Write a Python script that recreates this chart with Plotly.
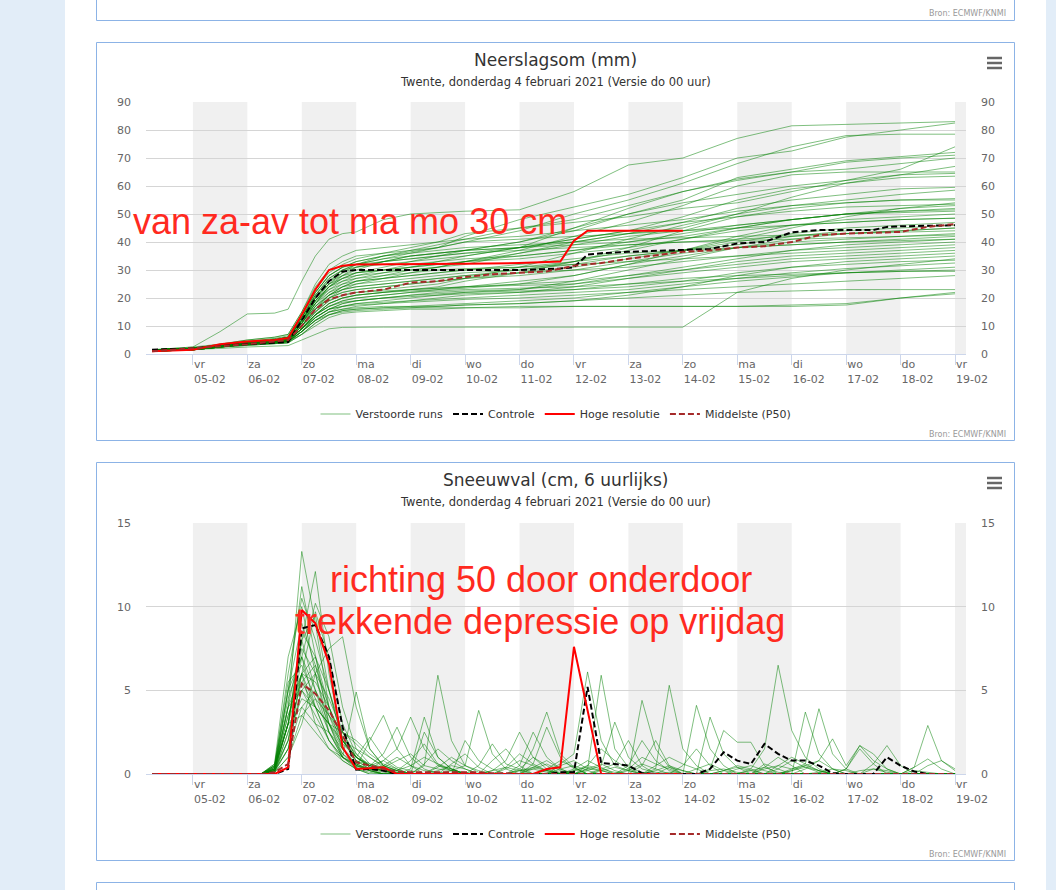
import plotly.graph_objects as go
import pandas as pd

W, H = 1056, 890

# Neerslagsom: times of the ensemble rows (6-hourly round the big event, daily later)
rain_times = ['2021-02-04 06:00', '2021-02-05 00:00', '2021-02-05 12:00', '2021-02-06 00:00',
              '2021-02-06 12:00', '2021-02-06 18:00', '2021-02-07 00:00', '2021-02-07 06:00',
              '2021-02-07 12:00', '2021-02-07 18:00', '2021-02-08 00:00', '2021-02-08 12:00',
              '2021-02-09 00:00', '2021-02-09 12:00', '2021-02-10 00:00', '2021-02-11 00:00',
              '2021-02-12 00:00', '2021-02-13 00:00', '2021-02-14 00:00', '2021-02-15 00:00',
              '2021-02-16 00:00', '2021-02-17 00:00', '2021-02-18 00:00', '2021-02-19 00:00']

# Verstoorde runs (mm)
rain_members = [
    [1.5, 2.5, 8, 14.3, 14.6, 16, 26, 35, 41, 43, 43.6, 48, 50, 50.5, 51, 51.5, 58, 67.5, 70, 77, 81.5, 82, 82.5, 83],
    [1.5, 2, 3.5, 5, 6, 7, 15, 24, 30, 33, 35, 36, 37, 38, 42, 48, 52.5, 57, 63, 70, 72.5, 77.5, 80, 82.5],
    [1, 2, 3, 4.5, 5.5, 6.5, 14, 22, 28, 31, 33, 35, 36.5, 38, 40, 44, 50, 55, 61, 68, 74, 78, 78.5, 78.5],
    [1.5, 2, 3, 4, 5, 6, 12, 20, 26, 30, 32, 35, 37, 39, 41, 45, 47, 49, 52, 54, 58, 62, 66, 74],
    [1, 1.5, 2.5, 3.5, 4.5, 5, 11, 18, 24, 27, 29, 31, 33, 35, 37, 40, 44, 50, 55, 63, 66, 69, 70.5, 72],
    [1.5, 2, 3, 4, 5, 5.5, 13, 21, 27, 30, 31, 32, 33, 34, 35, 38, 45, 52, 58, 62, 65, 68.5, 70, 71],
    [1, 2, 3, 4, 5, 6, 14, 23, 29, 32, 34, 36, 38, 40, 43, 45, 48, 53, 58, 62.5, 65, 66, 68, 70],
    [1.5, 2, 3, 4, 4.5, 5, 10, 16, 21, 24, 26, 28, 30, 31, 32, 36, 40, 43, 45, 50, 56, 61, 64, 67],
    [1, 1.5, 2.5, 3.5, 4, 4.5, 9, 15, 20, 23, 25, 27, 29, 31, 33, 37, 42, 47, 53, 60, 64, 65, 65, 65],
    [1.5, 2, 3, 4.5, 5.5, 6, 13, 20, 25, 28, 30, 33, 35, 36, 37, 40, 45, 50, 54, 57, 60, 62, 64, 64.5],
    [1, 2, 3, 4, 5, 6, 12, 19, 24, 27, 29, 30, 31, 33, 35, 38, 41, 44, 49, 55, 59, 61, 63, 63.5],
    [1.5, 2, 3, 4, 4.5, 5, 11, 18, 24, 28, 31, 33, 35, 36, 37, 38, 40, 43, 47, 52, 55, 57, 59, 59.5],
    [1, 2, 3, 4, 5, 5.5, 10, 15, 19, 21, 22, 23, 24, 25, 27, 31, 36, 41, 46, 50, 53, 55, 57, 58.5],
    [1.5, 2.5, 3.5, 5, 6, 7, 15, 25, 32, 35, 37, 38, 39, 40, 41, 42, 44, 46, 48, 51, 53, 54, 55, 55.5],
    [1, 1.5, 2.5, 3.5, 4, 4.5, 9, 14, 18, 20, 21, 22, 23, 24, 26, 29, 33, 38, 44, 49, 52, 54, 55, 55],
    [1.5, 2, 3, 4, 5, 5.5, 12, 20, 26, 29, 31, 33, 34, 35, 36, 38, 41, 44, 47, 49, 51, 52.5, 53, 53.5],
    [1, 2, 3, 4, 4.5, 5, 10, 17, 22, 25, 27, 29, 31, 32, 33, 35, 37, 40, 43, 46, 48, 50, 51, 52],
    [1.5, 2, 3, 4, 5, 6, 13, 21, 26, 28, 29, 30, 31, 32, 33, 34, 36, 38, 41, 45, 48, 50, 50.5, 51],
    [1, 1.5, 2.5, 3.5, 4.5, 5, 9, 14, 17, 19, 20, 21, 22, 23, 24, 26, 28, 32, 37, 42, 46, 48, 49, 50],
    [1.5, 2, 3, 4, 5, 5.5, 11, 19, 25, 29, 32, 34, 36, 38, 40, 41, 42, 43, 44, 45, 46, 47, 48, 48.5],
    [1, 2, 3, 4, 4.5, 5, 10, 16, 20, 22, 23, 24, 25, 26, 27, 29, 31, 34, 37, 40, 43, 45, 46, 47],
    [1.5, 2, 3, 4, 5, 5.5, 12, 18, 22, 24, 25, 26, 27, 28, 29, 30, 32, 35, 37, 39, 42, 44, 45, 46],
    [1, 1.5, 2.5, 3.5, 4, 4.5, 8, 13, 16, 18, 19, 20, 21, 22, 22.5, 23, 26, 30, 34, 38, 41, 43, 44, 45],
    [1.5, 2, 3, 4, 5, 6, 14, 22, 28, 31, 33, 35, 36, 37, 38, 39, 40, 41, 41.5, 42, 42.5, 43, 43.5, 44],
    [1, 2, 3, 4, 4.5, 5, 9, 14, 18, 20, 21, 22, 22.5, 23, 23.5, 25, 28, 32, 35, 38, 40, 41, 42, 43],
    [1.5, 2, 3, 4, 4.5, 5, 10, 16, 21, 24, 26, 27, 28, 29, 30, 32, 34, 36, 37, 38, 39, 40, 41, 42],
    [1, 1.5, 2.5, 3.5, 4, 4.5, 8, 12, 15, 17, 18, 19, 20, 21, 22, 23, 25, 28, 31, 34, 37, 39, 40, 41],
    [1.5, 2, 3, 4, 5, 5.5, 11, 17, 21, 23, 24, 25, 26, 27, 28, 29, 30, 31, 33, 35, 37, 38, 39, 40],
    [1, 2, 3, 4, 5, 6, 12, 19, 24, 26, 27, 28, 29, 30, 30.5, 31, 32, 33, 34, 35, 36, 37, 38, 39],
    [1.5, 2, 3, 3.5, 4, 4.5, 8, 12, 15, 16, 17, 18, 19, 20, 21, 22, 24, 27, 30, 33, 35, 36, 37, 38],
    [1, 1.5, 2.5, 3.5, 4, 5, 9, 14, 18, 20, 21, 22, 23, 23.5, 24, 25, 26, 28, 30, 32, 34, 35, 36, 37],
    [1.5, 2, 3, 4, 5, 5.5, 10, 15, 19, 21, 22, 22.5, 23, 23.5, 24, 24.5, 25, 27, 29, 31, 33, 34, 35, 36],
    [1, 1.5, 2.5, 3, 3.5, 4, 7, 11, 14, 15.5, 16, 16.5, 17, 17, 17.5, 18, 19, 21, 24, 28, 31, 33, 34, 35],
    [1, 1.5, 2, 2.5, 3, 3, 5, 7, 9, 9.5, 9.6, 9.6, 9.6, 9.6, 9.6, 9.6, 9.6, 9.6, 9.6, 22, 27, 30, 32, 34],
    [1.5, 2, 3, 4, 4.5, 5, 9, 13, 16, 17, 18, 18.5, 19, 19.5, 20, 21, 22, 23, 25, 27, 29, 30.5, 31.5, 32.5],
    [1, 1.5, 2.5, 3.5, 4, 4.5, 8, 12, 15, 16, 16.5, 17, 17, 17.5, 18, 19, 20, 22, 24, 26, 27.5, 29, 30, 31],
    [1.5, 2, 3, 4, 4.5, 5, 9, 14, 17, 19, 20, 21, 22, 22.5, 23, 23.5, 24, 25, 26, 27, 28, 29, 29.5, 30],
    [1, 1.5, 2.5, 3, 3.5, 4, 7, 11, 14, 15, 15.5, 16, 16.5, 17, 17.5, 18, 19, 20, 21, 22, 22.5, 23, 23, 23],
    [1.5, 2, 3, 3.5, 4, 4.5, 7, 10, 13, 14.5, 15, 15.5, 16, 16, 16.5, 16.5, 17, 17, 17, 17, 17, 17.5, 20, 22],
    [1, 1.5, 2.5, 3.5, 4, 4.5, 8, 13, 16, 18, 19, 20, 20.5, 21, 21.5, 22, 23, 25, 27, 28, 28.5, 29, 29.5, 29.5],
    [1.5, 2, 3, 4, 5, 5.5, 12, 20, 25, 27, 28, 29, 30, 31, 33, 36, 39, 42, 44, 46, 48, 50, 51, 51.5],
    [1, 1.5, 2.5, 3.5, 4, 4.5, 10, 16, 20, 22, 23, 24, 25, 26, 27, 28, 30, 33, 36, 38, 39, 40, 40.5, 41],
    [1.5, 2, 3, 4, 4.5, 5, 11, 18, 23, 26, 28, 30, 32, 33, 34, 35, 37, 39, 40, 41, 42, 43, 44, 45],
    [1, 2, 3, 4, 5, 5.5, 12, 19, 23, 25, 26, 27, 28, 29, 30, 31, 33, 35, 37, 41, 45, 49, 52, 54],
    [1.5, 2, 3, 4, 5, 6, 13, 21, 27, 30, 32, 34, 35, 36, 37, 38, 39, 40, 42, 45, 48, 50, 52, 53],
    [1, 1.5, 2.5, 3.5, 4, 4.5, 9, 14, 17, 18.5, 19, 20, 21, 21.5, 22, 22.5, 23, 24, 26, 29, 31, 32, 33, 33.5],
    [1.5, 2, 3, 4, 4.5, 5, 9, 13, 16, 17, 17.5, 18, 18.5, 19, 19.5, 20, 21, 22, 23, 24, 25, 26, 27, 28],
    [1, 2, 3, 4, 5, 5.5, 11, 17, 21, 23, 24, 25, 26, 27, 28, 30, 33, 37, 41, 44, 46, 47, 48, 48.5],
    [1.5, 2, 3, 4, 5, 5.5, 13, 22, 28, 31, 32, 33, 34, 35, 36, 37, 38, 39, 40, 40.5, 41, 41.5, 42, 42.5],
    [1, 1.5, 2.5, 3, 3.5, 4, 8, 12, 14, 15.5, 16, 16.5, 16.5, 16.5, 16.5, 17, 17, 17, 17, 17, 17.5, 18, 20, 21.5],
]

# Controle (mm)
rain_ctrl_times = ['2021-02-04 06:00', '2021-02-05 00:00', '2021-02-05 12:00', '2021-02-06 00:00',
                   '2021-02-06 12:00', '2021-02-06 18:00', '2021-02-07 00:00', '2021-02-07 06:00',
                   '2021-02-07 12:00', '2021-02-07 18:00', '2021-02-08 00:00', '2021-02-09 00:00',
                   '2021-02-10 00:00', '2021-02-11 00:00', '2021-02-11 18:00', '2021-02-12 00:00',
                   '2021-02-12 06:00', '2021-02-12 12:00', '2021-02-13 00:00', '2021-02-14 00:00',
                   '2021-02-14 12:00', '2021-02-15 00:00', '2021-02-15 12:00', '2021-02-16 00:00',
                   '2021-02-16 12:00', '2021-02-17 12:00', '2021-02-17 18:00', '2021-02-18 00:00',
                   '2021-02-19 00:00']
rain_ctrl = [1.5, 2, 3, 3.5, 4, 4.3, 12, 20, 26, 29.5, 30, 30, 30, 30, 30.5, 31,
             35.5, 36, 36.5, 37, 37.5, 39.5, 40, 43.5, 44.3, 44.3, 45.4, 45.6, 46]

# Hoge resolutie (mm), runs until 14-02
rain_hires_times = ['2021-02-04 06:00', '2021-02-05 00:00', '2021-02-05 12:00', '2021-02-06 00:00',
                    '2021-02-06 12:00', '2021-02-06 18:00', '2021-02-07 00:00', '2021-02-07 06:00',
                    '2021-02-07 12:00', '2021-02-07 18:00', '2021-02-08 00:00', '2021-02-09 00:00',
                    '2021-02-10 00:00', '2021-02-11 00:00', '2021-02-11 18:00', '2021-02-12 00:00',
                    '2021-02-12 06:00', '2021-02-14 00:00']
rain_hires = [1, 1.5, 3.5, 4.5, 5, 5.7, 14, 23, 30, 31.5, 32, 32, 32.2, 32.5, 33, 40.5, 44, 44]

# Middelste (P50) (mm)
rain_p50_times = ['2021-02-04 06:00', '2021-02-05 00:00', '2021-02-06 00:00', '2021-02-06 18:00',
                  '2021-02-07 00:00', '2021-02-07 06:00', '2021-02-07 12:00', '2021-02-07 18:00',
                  '2021-02-08 00:00', '2021-02-08 12:00', '2021-02-09 00:00', '2021-02-09 12:00',
                  '2021-02-10 00:00', '2021-02-10 12:00', '2021-02-11 00:00', '2021-02-11 12:00',
                  '2021-02-12 00:00', '2021-02-12 12:00', '2021-02-13 00:00', '2021-02-14 00:00',
                  '2021-02-14 12:00', '2021-02-15 00:00', '2021-02-15 12:00', '2021-02-16 00:00',
                  '2021-02-16 12:00', '2021-02-17 00:00', '2021-02-18 00:00', '2021-02-18 12:00',
                  '2021-02-19 00:00']
rain_p50 = [1, 2, 3.5, 5, 10, 16, 19.5, 21, 22, 23, 25.5, 26, 27.5, 28.5, 29, 29.5,
            31.5, 32.5, 34, 36.5, 37, 38, 38.5, 40, 42.5, 43, 43.6, 45.4, 46.4]

# Sneeuwval: 04-02 06h, then 6-hourly 06-02 00h .. 18-02 18h, then 19-02 00h
snow_times = (['2021-02-04 06:00']
              + [f'2021-02-{d:02d} {h:02d}:00' for d in range(6, 19) for h in (0, 6, 12, 18)]
              + ['2021-02-19 00:00'])

# Verstoorde runs (cm per 6 h)
snow_members = [
    [0, 0, 0, 0.3, 4, 13.3, 9, 4, 1.5, 0.5, 0.3, 0.2, 0.1, 0, 0, 0.2, 0.5, 0.3, 0, 0, 0, 0.2, 0.4, 0.2, 0, 0, 0.3, 0.6, 0.2, 0, 0, 0, 0.1, 0, 0, 0, 0.2, 0.5, 0.3, 0, 0, 0, 0, 0.1, 0.3, 0.2, 0, 0, 0, 0, 0.2, 0.1, 0, 0],
    [0, 0, 0, 0.5, 3, 8, 12.1, 6, 2, 1, 0.6, 0.4, 0.8, 1.2, 0.5, 0.3, 0.2, 0.1, 0, 0, 0.3, 0.8, 0.5, 0.2, 0.1, 0, 0.5, 1.5, 0.8, 0.3, 0, 0, 0.4, 0.2, 0, 0, 0, 0.3, 0.5, 0.2, 0, 0, 0, 0, 0, 0, 0, 0.3, 0.2, 0, 0, 0, 0, 0],
    [0, 0, 0, 0.2, 5, 11.2, 7, 3, 1.2, 0.4, 2, 3.5, 1.5, 0.5, 0.2, 0.1, 0, 0, 0, 0, 0, 0, 0.3, 0.6, 0.2, 0, 0, 0, 0, 0.3, 1, 0.6, 0.3, 0, 0, 0.2, 0.3, 0.1, 0, 0, 0.5, 1, 0.6, 0.2, 0, 0, 0, 0, 0, 0, 0, 0, 0, 0],
    [0, 0, 0, 0.4, 6, 10.5, 8, 5, 2.5, 1, 0.5, 0.8, 1.5, 3.4, 1.5, 0.5, 0.2, 0, 0, 0, 0, 0.2, 0.3, 0.1, 0, 0, 0, 0.2, 0.4, 0.2, 0, 0, 0, 0, 0.3, 0.6, 0.2, 0, 0, 0, 0, 0.2, 0.4, 0.1, 0, 0, 0, 0, 0, 0, 0.4, 0.9, 0.3, 0],
    [0, 0, 0, 0.1, 2, 7, 10.2, 8.2, 4, 1.5, 0.6, 0.3, 0.1, 0, 0, 0.4, 1, 0.5, 0.2, 0, 0, 0, 0, 0.2, 0.6, 1.2, 6.1, 2, 0.5, 0.2, 0, 0, 0, 0, 0, 0, 0, 0, 0.2, 0.4, 0.1, 0, 0, 0, 0, 0, 0.2, 0.3, 0.1, 0, 0, 0, 0, 0],
    [0, 0, 0, 0.6, 7, 10, 6, 2.5, 1, 0.3, 0.1, 0, 0, 0, 0.5, 5.9, 2, 0.5, 0.1, 0, 0, 0, 0, 0, 0, 0.2, 0.5, 0.3, 0.1, 0, 0, 0.2, 0.5, 0.2, 0, 0, 0, 0, 0, 0, 0.3, 0.8, 0.4, 0.2, 0, 0, 0, 0, 0, 0, 0, 0, 0, 0],
    [0, 0, 0, 0.2, 1.5, 6, 9.7, 7, 3, 1.2, 0.5, 0.2, 0, 0, 0, 0, 0.2, 0.5, 3.8, 1.2, 0.3, 0, 0, 0, 0, 0, 0, 0, 0, 0.2, 0.6, 0.3, 0, 0, 0, 0, 0.2, 0.4, 0.2, 0, 0, 0, 0, 0, 0, 0.3, 1.7, 0.8, 0.3, 0, 0, 0, 0, 0],
    [0, 0, 0, 0.3, 3, 8, 9.5, 5, 2, 0.8, 0.3, 0.1, 0, 0, 0, 0, 0, 0, 0, 0.2, 0.8, 2.5, 1, 0.3, 0, 0, 0.3, 5.9, 1.5, 0.4, 0.1, 0, 0, 0, 0, 0, 0, 0, 0, 0, 0, 0.2, 0.5, 0.2, 0, 0, 0, 0, 0, 0, 0, 0, 0, 0],
    [0, 0, 0, 0.5, 5, 9, 6.5, 3.5, 1.5, 0.6, 0.2, 0, 0, 0, 0, 0, 0, 0, 0, 0, 0, 0, 0, 0, 0, 0, 0.2, 0.5, 3.1, 1, 0.3, 0.1, 0, 0, 0, 3.4, 1.2, 0.4, 0, 0, 0, 0, 0, 0, 0, 0, 0, 0, 0, 0, 0, 0, 0, 0],
    [0, 0, 0, 0.1, 1, 3, 6, 7.5, 8.2, 4, 1.5, 0.5, 0.2, 0, 0, 0, 0, 0, 0, 0.2, 0.4, 0.2, 0, 0, 0, 0, 0, 0, 0, 0, 0, 0.3, 5.3, 1.5, 0.5, 0, 0, 0, 0, 0, 0, 0, 0.3, 0.8, 0.3, 0, 0, 0, 0, 0, 0, 0, 0, 0],
    [0, 0, 0, 0.3, 4, 8, 5, 2.5, 1, 4.9, 1.5, 0.5, 0.2, 0, 0, 0, 0, 0, 0, 0, 0, 0, 0.4, 0.8, 0.3, 0, 0, 0, 0, 0, 0, 0, 0, 0, 4.1, 1.5, 0.5, 0, 0, 0, 0, 0, 0, 0, 0, 0, 0, 0, 0, 0, 0, 0, 0, 0],
    [0, 0, 0, 0.2, 3, 7.5, 6, 3, 1, 0.5, 0.2, 0, 0, 0.3, 3.4, 1, 0.3, 0, 0, 0, 0, 0, 0, 0, 0, 0.3, 0.8, 0.4, 0, 0, 4.4, 1.5, 0.4, 0, 0, 0, 0, 0, 0, 0, 0, 0, 0, 0, 0, 0, 0, 0, 0, 0, 0, 0, 0, 0],
    [0, 0, 0, 0.4, 5, 7, 4, 2, 0.8, 0.3, 0, 0, 0, 0, 0, 0, 0, 0, 0, 0, 0, 0.5, 2.5, 1, 0.3, 0, 0, 0, 0, 0, 0, 0, 0, 0, 0, 0, 0, 0, 0.3, 1.5, 6.5, 2.6, 1, 0.3, 0, 0, 0, 0, 0, 0, 0, 0, 0, 0],
    [0, 0, 0, 0.6, 5.5, 6.5, 4.5, 2.5, 1.2, 0.6, 0.3, 0.2, 0.1, 0, 0, 0, 0, 0, 0, 0, 0, 0, 0, 0, 0.3, 0.5, 0.2, 0, 0, 0, 0, 0, 0, 0, 0, 0.3, 2.6, 1.9, 1.9, 0.5, 0, 0, 3.7, 1.2, 0.3, 0, 0, 0, 0, 0, 0, 0, 0, 0],
    [0, 0, 0, 0.2, 2, 6, 5.5, 4, 2, 1, 0.5, 0.3, 0, 0, 0, 0, 0, 0, 0, 0, 0, 0, 0, 0, 0, 0, 0, 0.3, 0.6, 2, 0.5, 0, 0, 0, 0, 0, 0, 0, 0, 0.3, 0.5, 0.3, 0.6, 3.9, 1.2, 0.3, 0, 0, 0, 0, 0, 0, 0, 0],
    [0, 0, 0, 0.3, 3.5, 5.5, 4, 2, 1, 0.4, 0.2, 0, 0, 0, 0, 0, 0, 0, 0, 0, 0, 0, 0, 0, 0, 0, 0, 0, 0, 0, 0, 0, 0, 0, 0, 0, 0, 0, 0, 0, 0, 0.3, 0.5, 0.8, 2.1, 0.5, 1.7, 1.2, 0.3, 0, 0.4, 2.9, 0.8, 0.2],
    [0, 0, 0, 0.1, 1.5, 5, 6, 4.5, 2.5, 1, 0.4, 0.2, 0, 0, 2.5, 1, 0.3, 0, 0, 0, 0, 0, 0, 0, 0, 0, 0, 0, 0, 0, 0, 0, 0, 0, 0, 0, 0, 0, 0, 0, 0, 0, 0, 0, 0, 0, 0, 0, 0, 0, 0, 0, 0, 0],
    [0, 0, 0, 0.5, 4, 5, 3.5, 2, 1, 0.5, 0.3, 0.5, 1, 0.5, 0, 0, 0, 0, 0, 0, 0, 0, 0, 0, 0, 0, 0, 0, 0, 0, 0.5, 2, 0.5, 0, 0, 0, 0, 0, 0, 0, 0, 0, 0, 0, 0, 0.3, 1.5, 0.6, 0, 0, 0, 0, 0, 0],
    [0, 0, 0, 0.2, 2.5, 4.5, 4, 3, 1.5, 0.8, 0.3, 0, 0, 0, 0, 0, 0, 0, 0, 0, 0, 0.3, 1, 0.5, 0, 0, 0, 0, 0, 0, 0, 0, 0, 0, 0, 0, 0, 0, 0, 0, 0, 0, 0, 0, 0, 0, 0, 0, 0, 0, 0, 0, 0, 0],
    [0, 0, 0, 0.3, 3, 4, 3, 2.5, 1.5, 0.5, 0.2, 0, 0, 0, 0, 0, 0, 0, 0, 0, 0, 0, 0, 0, 0, 0, 0, 0, 0, 0, 0, 0, 0, 0, 0, 0, 0, 0, 0, 0, 0, 0, 0, 0, 0, 0, 0, 0, 0, 0, 0, 0, 0, 0],
    [0, 0, 0, 0.1, 1, 3.5, 4.5, 3.5, 2, 1, 0.5, 0.2, 0, 0, 0, 0, 0, 0, 0, 0, 0, 0, 0, 0, 0, 0, 0, 0, 0, 0, 0, 0, 0, 0, 0, 0, 0, 0, 0, 0, 0, 0, 0, 0, 0, 0, 0, 0, 0, 0, 0, 0, 0, 0],
    [0, 0, 0, 0.4, 3, 3.5, 2.5, 1.5, 0.8, 0.3, 0, 0, 0, 0, 0, 0, 0, 0, 0, 0, 0, 0, 0, 0, 0, 0, 0, 0, 0, 0, 0, 0, 0, 0, 0, 0, 0, 0, 0, 0, 0, 0, 0, 0, 0, 0, 0, 0, 0, 0, 0, 0, 0, 0],
    [0, 0, 0, 0.3, 2, 5, 4, 3, 2, 1.5, 1, 0.5, 0.2, 0.5, 1, 0.6, 0.3, 0, 0.5, 1.8, 0.6, 0.3, 0, 0, 0.5, 0.8, 0.3, 0.2, 0, 0, 0, 0.5, 1, 0.6, 0.3, 0, 0, 0, 0, 0.6, 0.3, 0, 0, 0, 0, 0, 0, 0, 0, 0, 0, 0, 0, 0],
    [0, 0, 0, 0.2, 3, 6, 4, 3, 2.5, 2, 1.2, 0.6, 0.3, 0, 0.6, 1.5, 0.8, 0.3, 0, 0, 0, 0, 0.6, 2.8, 1, 0.3, 0, 0, 0, 0, 0, 0, 0, 0, 0, 0, 0, 0, 0, 0, 0, 0, 0, 0, 0, 0, 0, 0, 0, 0, 0, 0, 0, 0],
    [0, 0, 0, 0.5, 4.5, 7, 5, 3.5, 2.5, 1.8, 1, 0.4, 0.2, 0.8, 1.8, 0.6, 0.2, 0, 0, 0, 0.4, 1.2, 0.6, 0.2, 0, 0.2, 0.4, 0.2, 0, 0, 0, 0, 0, 0, 0, 0, 0, 0, 0, 0.4, 1, 0.5, 0, 0, 0, 0, 0, 0, 0, 0, 0, 0, 0, 0],
    [0, 0, 0, 0.2, 1.5, 4, 5, 3, 1.8, 1, 2.2, 1, 0.4, 0.2, 0, 0, 0.6, 1.2, 0.4, 0, 0, 0, 0, 0.3, 0.8, 0.4, 0, 0, 0, 0.5, 2, 0.8, 0.2, 0, 0, 0, 0, 0, 0, 0, 0, 0, 0, 0, 0, 0, 0, 0, 0, 0, 0, 0, 0, 0],
    [0, 0, 0, 0.4, 3.5, 6, 7, 5, 2, 0.8, 0.5, 1.2, 2.8, 1, 0.3, 0, 0, 0, 0, 0.8, 1.5, 0.5, 0, 0, 0, 0, 0, 0, 0, 0, 0, 0, 0, 0.5, 1.5, 0.5, 0, 0, 0, 0, 0, 0, 0, 0, 0, 0, 0, 0, 0, 0, 0, 0, 0, 0],
    [0, 0, 0, 0.1, 2.5, 5.5, 6.5, 4, 2.2, 1.2, 0.4, 0.2, 0, 0, 0, 0.5, 0.3, 0, 0, 0, 0, 0, 1.5, 3.7, 1.2, 0.4, 0, 0, 0, 0, 0, 0, 0, 0, 0, 0, 0, 0, 0, 0, 0, 0, 0, 0, 0, 0, 0, 0, 0, 0, 0, 0, 0, 0],
    [0, 0, 0, 0.3, 4, 6, 3, 1.5, 1, 0.6, 0.3, 0.8, 0.3, 0, 0, 0, 0, 2, 0.8, 0.3, 0, 0, 0, 0, 0, 0, 0, 0, 0, 0, 0, 0, 0, 0, 0, 0, 0, 0, 0, 0, 0, 0, 0, 0, 0, 0, 0, 0.6, 1.7, 0.5, 0, 0, 0, 0],
    [0, 0, 0, 0.2, 3, 8.5, 7, 4, 2, 1, 0.4, 0.2, 0, 0, 0, 0, 0, 0, 0, 0, 0, 0, 0, 0, 0, 0, 0, 0, 0, 0, 0, 0, 0, 0, 0, 0, 0, 0, 0, 0, 0, 0, 0, 0, 0, 0, 0, 0, 0, 0, 0, 0.5, 0.8, 0.3],
]

# Controle, Hoge resolutie (until 14-02 00h) and P50, same time steps
snow_ctrl = [0, 0, 0, 0, 0.3, 8.7, 8.9, 7, 2.8, 0.25, 0.3, 0.2, 0, 0, 0, 0, 0, 0, 0, 0, 0,
             0, 0, 0, 0.1, 0.1, 5.2, 0.65, 0.6, 0.5, 0.05, 0, 0, 0, 0, 0.3, 1.3, 0.8, 0.6, 1.8, 1.2,
             0.8, 0.8, 0.5, 0.05, 0, 0, 0, 1.0, 0.5, 0.15, 0, 0, 0]
snow_hires = [0, 0, 0, 0, 0.4, 9.8, 9, 6.6, 1.6, 0.3, 0.35, 0.4, 0, 0, 0, 0, 0, 0, 0, 0, 0,
              0, 0, 0.3, 0.4, 7.6, 3.8, 0, 0, 0, 0, 0, 0, 0]
snow_p50 = [0, 0, 0, 0.1, 0.6, 5.4, 4.8, 3.8, 2.3, 0.7, 0.5, 0.3, 0.15, 0.1, 0.1, 0.1, 0.1,
            0.1, 0.1, 0.05, 0.05, 0, 0, 0, 0, 0, 0, 0, 0, 0, 0, 0, 0, 0, 0, 0, 0, 0, 0, 0, 0,
            0, 0, 0, 0, 0, 0, 0, 0, 0, 0, 0, 0, 0]

# x axis ticks and the alternating grey day bands
tick_vals = ['2021-02-%02d' % d for d in range(5, 20)]
day_names = ['vr', 'za', 'zo', 'ma', 'di', 'wo', 'do', 'vr', 'za', 'zo', 'ma', 'di', 'wo', 'do', 'vr']
day_dates = ['05-02', '06-02', '07-02', '08-02', '09-02', '10-02', '11-02', '12-02',
             '13-02', '14-02', '15-02', '16-02', '17-02', '18-02', '19-02']
band_days = ['2021-02-05', '2021-02-07', '2021-02-09', '2021-02-11', '2021-02-13',
             '2021-02-15', '2021-02-17', '2021-02-19']
x_range = ['2021-02-04 03:20', '2021-02-19 04:50']

GREEN = 'rgba(0,128,0,0.5)'
FONT = 'DejaVu Sans'
FRAME = '#8cb3e6'


def px(x):
    return x / W


def py(y):
    return 1 - y / H


fig = go.Figure()

# Neerslagsom traces
for i, row in enumerate(rain_members):
    fig.add_trace(go.Scatter(x=rain_times, y=row, mode='lines', name='Verstoorde runs',
                             line=dict(color=GREEN, width=1), legendgroup='runs',
                             showlegend=(i == 0), hoverinfo='skip', xaxis='x', yaxis='y'))
fig.add_trace(go.Scatter(x=rain_ctrl_times, y=rain_ctrl, mode='lines', name='Controle',
                         line=dict(color='black', width=2, dash='6px,3px'), xaxis='x', yaxis='y'))
fig.add_trace(go.Scatter(x=rain_hires_times, y=rain_hires, mode='lines', name='Hoge resolutie',
                         line=dict(color='#ff0000', width=2), xaxis='x', yaxis='y'))
fig.add_trace(go.Scatter(x=rain_p50_times, y=rain_p50, mode='lines', name='Middelste (P50)',
                         line=dict(color='#a52a2a', width=2, dash='6px,3px'), xaxis='x', yaxis='y3'))

# Sneeuwval traces
for i, row in enumerate(snow_members):
    fig.add_trace(go.Scatter(x=snow_times, y=row, mode='lines', name='Verstoorde runs',
                             line=dict(color=GREEN, width=1), legendgroup='runs2',
                             showlegend=(i == 0), hoverinfo='skip', xaxis='x2', yaxis='y2',
                             legend='legend2'))
fig.add_trace(go.Scatter(x=snow_times, y=snow_ctrl, mode='lines', name='Controle',
                         line=dict(color='black', width=2, dash='6px,3px'), xaxis='x2', yaxis='y2',
                         legend='legend2'))
fig.add_trace(go.Scatter(x=snow_times[:len(snow_hires)], y=snow_hires, mode='lines',
                         name='Hoge resolutie', line=dict(color='#ff0000', width=2),
                         xaxis='x2', yaxis='y2', legend='legend2'))
fig.add_trace(go.Scatter(x=snow_times, y=snow_p50, mode='lines', name='Middelste (P50)',
                         line=dict(color='#a52a2a', width=2, dash='6px,3px'), xaxis='x2', yaxis='y4',
                         legend='legend2'))

tick_text = [n + '<br>' + d for n, d in zip(day_names, day_dates)]
xdom = [px(146), px(966)]
axis_font = dict(family=FONT, size=11, color='#666666')

xcommon = dict(domain=xdom, type='date', range=x_range, tickvals=tick_vals, ticktext=tick_text,
               ticks='outside', ticklen=10, tickcolor='#ccd6eb', showline=True, linecolor='#ccd6eb',
               showgrid=False, zeroline=False, tickfont=axis_font, ticklabelposition='outside right')
ycommon = dict(gridcolor='#d5d5d5', zeroline=False, tickfont=axis_font, ticks='',
               ticklabelstandoff=14, fixedrange=True)
yright = {k: v for k, v in ycommon.items() if k != 'gridcolor'}

fig.update_layout(
    xaxis=dict(anchor='y', **xcommon),
    yaxis=dict(anchor='x', domain=[py(354), py(102)], range=[0, 90], dtick=10, **ycommon),
    yaxis3=dict(anchor='x', overlaying='y', side='right', range=[0, 90], dtick=10,
                showgrid=False, **yright),
    xaxis2=dict(anchor='y2', **xcommon),
    yaxis2=dict(anchor='x2', domain=[py(774), py(523)], range=[0, 15], dtick=5, **ycommon),
    yaxis4=dict(anchor='x2', overlaying='y2', side='right', range=[0, 15], dtick=5,
                showgrid=False, **yright),
)

legend_style = dict(orientation='h', xanchor='center', yanchor='middle', x=px(556),
                    bgcolor='rgba(0,0,0,0)', font=dict(family=FONT, size=11, color='#333333'),
                    itemclick=False)
fig.update_layout(legend=dict(y=py(414), **legend_style),
                  legend2=dict(y=py(834), **legend_style))

shapes = []
# page background strips
shapes.append(dict(type='rect', xref='paper', yref='paper', x0=0, x1=px(65), y0=0, y1=1,
                   fillcolor='#e2edf8', line_width=0, layer='below'))
shapes.append(dict(type='rect', xref='paper', yref='paper', x0=px(1046), x1=1, y0=0, y1=1,
                   fillcolor='#e2edf8', line_width=0, layer='below'))
# panel frames (the first and last are cut off by the window, so keep them inside it)
for top, bottom in [(42.5, 440.5), (462.5, 860.5)]:
    shapes.append(dict(type='rect', xref='paper', yref='paper', x0=px(96.5), x1=px(1014.5),
                       y0=py(bottom), y1=py(top), line=dict(color=FRAME, width=1),
                       fillcolor='rgba(0,0,0,0)', layer='below'))
frame_lines = [(96.5, 0, 96.5, 20.5), (1014.5, 0, 1014.5, 20.5), (96.5, 20.5, 1014.5, 20.5),
               (96.5, 882.5, 1014.5, 882.5), (96.5, 882.5, 96.5, 890), (1014.5, 882.5, 1014.5, 890)]
for x0, y0, x1, y1 in frame_lines:
    shapes.append(dict(type='line', xref='paper', yref='paper', x0=px(x0), y0=py(y0),
                       x1=px(x1), y1=py(y1), line=dict(color=FRAME, width=1), layer='below'))
# grey bands for every other day
for xa, ya in [('x', 'y'), ('x2', 'y2')]:
    for d in band_days:
        end = (pd.Timestamp(d) + pd.Timedelta(days=1)).strftime('%Y-%m-%d')
        end = min(end, x_range[1])
        shapes.append(dict(type='rect', xref=xa, yref=ya + ' domain', x0=d, x1=end, y0=0, y1=1,
                           fillcolor='#f0f0f0', line_width=0, layer='below'))
# hamburger menu icons
for top in (58, 478):
    for k in range(3):
        yy = py(top + 5 * k)
        shapes.append(dict(type='line', xref='paper', yref='paper', x0=px(987), x1=px(1002),
                           y0=yy, y1=yy, line=dict(color='#666666', width=2.5)))
fig.update_layout(shapes=shapes)

ann = []
titles = [(60, 82, 'Neerslagsom (mm)'), (480, 502, 'Sneeuwval (cm, 6 uurlijks)')]
for ty, sy, text in titles:
    ann.append(dict(x=px(555), y=py(ty), text=text, showarrow=False, xref='paper', yref='paper',
                    xanchor='center', yanchor='middle',
                    font=dict(family=FONT, size=17, color='#333333')))
    ann.append(dict(x=px(555), y=py(sy), text='Twente, donderdag 4 februari 2021 (Versie do 00 uur)',
                    showarrow=False, xref='paper', yref='paper', xanchor='center', yanchor='middle',
                    font=dict(family=FONT, size=11.5, color='#333333')))
for by in (14, 434, 854):
    ann.append(dict(x=px(1008), y=py(by), text='Bron: ECMWF/KNMI', showarrow=False,
                    xref='paper', yref='paper', xanchor='right', yanchor='middle',
                    font=dict(family=FONT, size=8, color='#999999')))
# red remarks written over the charts
red_notes = [(350, 221, 'van za-av tot ma mo 30 cm'),
             (541, 579, 'richting 50 door onderdoor'),
             (540, 621, 'trekkende depressie op vrijdag')]
for nx, ny, text in red_notes:
    ann.append(dict(x=px(nx), y=py(ny), text=text, showarrow=False, xref='paper', yref='paper',
                    xanchor='center', yanchor='middle',
                    font=dict(family='Liberation Sans', size=36, color='#ff2a1f')))
fig.update_layout(annotations=ann)

# no automatic margin growth: paper coordinates must cover the whole figure
fig.update_layout(width=W, height=H, margin=dict(l=0, r=0, t=0, b=0, autoexpand=False),
                  paper_bgcolor='white', plot_bgcolor='rgba(0,0,0,0)', showlegend=True,
                  hovermode=False)

# the page itself should add no margin round the figure
fig.write_html("out.html", config={'displayModeBar': False},
               post_script="document.body.style.margin='0';document.body.style.overflow='hidden';")
